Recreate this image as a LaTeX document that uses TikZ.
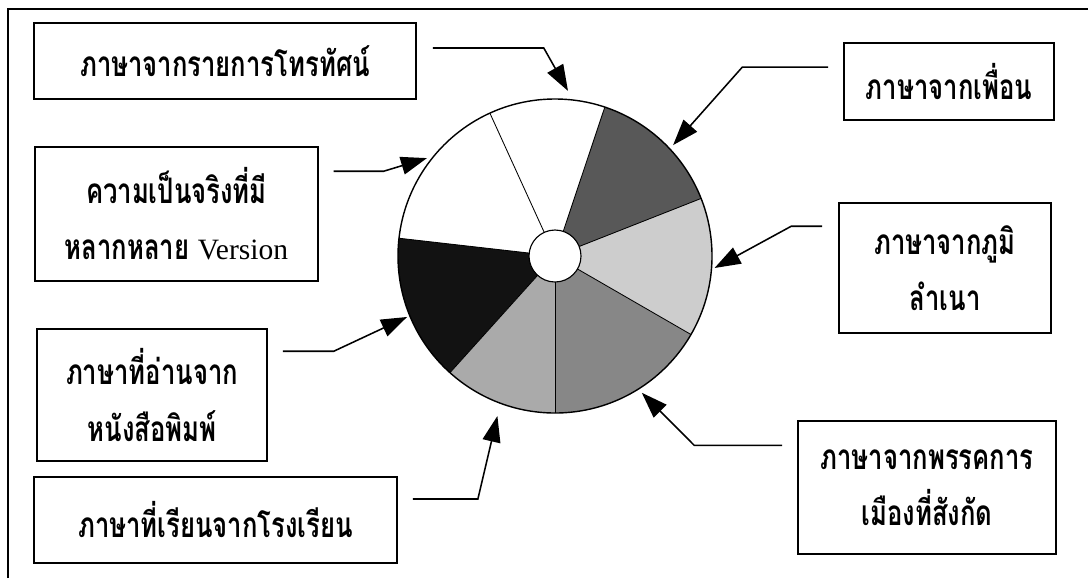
\documentclass[tikz,border=0pt]{standalone}
\usepackage{fontspec}
\setmainfont{Liberation Serif}
\newfontfamily\thaifont[Script=Thai, FakeStretch=0.73]{Loma}
\usetikzlibrary{arrows.meta,calc}
\definecolor{pieBlack}{RGB}{18,18,18}
\definecolor{pieDark}{RGB}{88,88,88}
\definecolor{pieMid}{RGB}{135,135,135}
\definecolor{pieSoft}{RGB}{170,170,170}
\definecolor{pieLight}{RGB}{205,205,205}
\tikzset{
    base/.style={font=\thaifont\bfseries\fontsize{25}{40}\selectfont, align=center},
    source/.style={base, rectangle, draw=black, line width=1.1pt, fill=white, inner sep=0pt},
    flow/.style={-{Triangle[length=6.5mm, width=4.5mm]}, line width=1.1pt, color=black},
    wedge/.style={draw=black, line width=0.6pt}
}

\begin{document}
\begin{tikzpicture}
  \useasboundingbox (0,0) rectangle (27.2,-14.45);
  % frame
  \draw[line width=1.1pt] (0.2,-14.45) -- (0.2,-0.225) -- (27.2,-0.225);

  % pie (centre)
  \coordinate (pie) at (13.875,-6.4);
  \fill[pieMid] (pie) -- ++(-90:3.925) arc[start angle=-90, end angle=-30, radius=3.925] -- cycle;
  \fill[pieLight] (pie) -- ++(-30:3.925) arc[start angle=-30, end angle=21.5, radius=3.925] -- cycle;
  \fill[pieDark] (pie) -- ++(21.5:3.925) arc[start angle=21.5, end angle=71.5, radius=3.925] -- cycle;
  \fill[pieBlack] (pie) -- ++(173.5:3.925) arc[start angle=173.5, end angle=228, radius=3.925] -- cycle;
  \fill[pieSoft] (pie) -- ++(228:3.925) arc[start angle=228, end angle=270, radius=3.925] -- cycle;
  \draw[wedge] (pie) -- ++(-90:3.925);
  \draw[wedge] (pie) -- ++(-30:3.925);
  \draw[wedge] (pie) -- ++(21.5:3.925);
  \draw[wedge] (pie) -- ++(71.5:3.925);
  \draw[wedge] (pie) -- ++(114.5:3.925);
  \draw[wedge] (pie) -- ++(173.5:3.925);
  \draw[wedge] (pie) -- ++(228:3.925);
  \draw[line width=1pt] (pie) circle (3.925);
  \filldraw[fill=white, draw=black, line width=0.8pt] (pie) circle (0.65);

  % sources (left)
  \node[source, minimum width=9.55cm, minimum height=1.9cm] (tv) at (5.625,-1.525) {ภาษาจากรายการโทรทัศน์};
  \node[source, minimum width=7.075cm, minimum height=3.35cm] (ver) at (4.41,-5.35) {
    ความเป็นจริงที่มี\\
    หลากหลาย {\rmfamily\mdseries\fontsize{21}{40}\selectfont Version}
  };
  \node[source, minimum width=5.75cm, minimum height=3.3cm] (news) at (3.8,-9.875) {
    ภาษาที่อ่านจาก\\
    หนังสือพิมพ์
  };
  \node[source, minimum width=9.075cm, minimum height=2.15cm] (school) at (5.39,-13.0) {ภาษาที่เรียนจากโรงเรียน};

  % sources (right)
  \node[source, minimum width=5.25cm, minimum height=1.925cm] (friend) at (23.725,-2.04) {ภาษาจากเพื่อน};
  \node[source, minimum width=5.3cm, minimum height=3.25cm] (home) at (23.625,-6.7) {
    ภาษาจากภูมิ\\
    ลำเนา
  };
  \node[source, minimum width=6.45cm, minimum height=3.325cm] (party) at (23.175,-12.19) {
    ภาษาจากพรรคการ\\
    เมืองที่สังกัด
  };

  % arrows
  \draw[flow] ([xshift=4mm,yshift=3.25mm]tv.east) -- ++(2.775,0) -- ($(pie)+(85.5:4.14)$);
  \draw[flow] ([xshift=3.75mm,yshift=-6.25mm]ver.north east) -- ++(1.25,0) -- ($(pie)+(142.6:4.03)$);
  \draw[flow] ([xshift=3.75mm,yshift=-5.75mm]news.north east) -- ++(1.275,0) -- ($(pie)+(202.4:4.0)$);
  \draw[flow] ([xshift=3.75mm,yshift=5.25mm]school.east) -- ++(1.625,0) -- ($(pie)+(250.2:4.25)$);
  \draw[flow] ([xshift=-3.75mm,yshift=3.6mm]friend.west) -- ++(-2.15,0) -- ($(pie)+(43.2:4.05)$);
  \draw[flow] ([xshift=-4mm,yshift=-6mm]home.north west) -- ++(-0.775,0) -- ($(pie)+(-4.3:4.0)$);
  \draw[flow] ([xshift=-3.75mm,yshift=-6.25mm]party.north west) -- ++(-2.2,0) -- ($(pie)+(-57.6:4.05)$);
\end{tikzpicture}
\end{document}
